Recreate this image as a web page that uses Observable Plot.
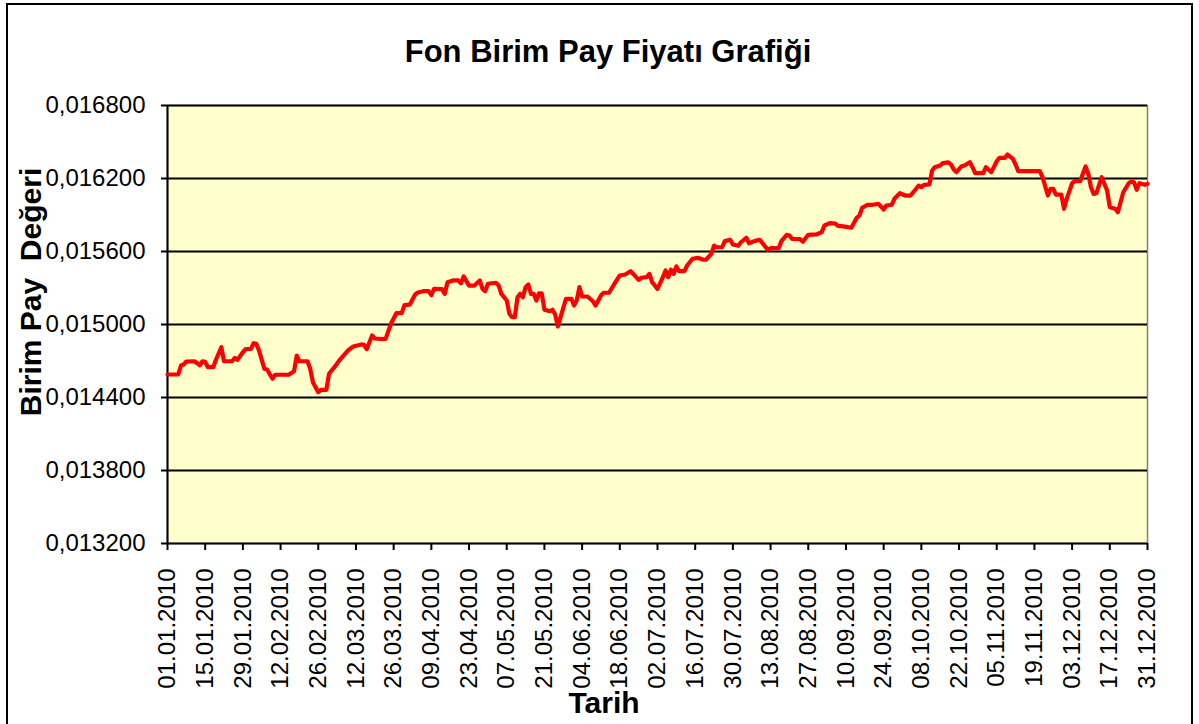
<!DOCTYPE html>
<html>
<head>
<meta charset="utf-8">
<script src="https://cdn.jsdelivr.net/npm/d3@7"></script>
<script src="https://cdn.jsdelivr.net/npm/@observablehq/plot@0.6"></script>
<style>
  html, body { margin: 0; padding: 0; background: #fff; }
  body { width: 1199px; height: 724px; position: relative; overflow: hidden; font-family: "Liberation Sans", Arial, sans-serif; }
  #frame { position: absolute; left: 6px; top: 3px; width: 1187px; height: 730px; border: 2px solid #000; box-sizing: border-box; }
  #title { position: absolute; left: 608px; top: 33px; transform: translateX(-50%); font-size: 31px; font-weight: bold; line-height: 38px; white-space: nowrap; color: #000; }
  #chart { position: absolute; left: 0; top: 80px; }
  #xtitle { position: absolute; left: 604px; top: 686px; transform: translateX(-50%); font-size: 30px; font-weight: bold; line-height: 34px; white-space: nowrap; }
  #ytitle { position: absolute; left: 31px; top: 292px; transform: translate(-50%, -50%) rotate(-90deg); font-size: 30px; font-weight: bold; line-height: 34px; white-space: pre; }
</style>
</head>
<body>
<div id="frame"></div>
<div id="title">Fon Birim Pay Fiyatı Grafiği</div>
<div id="chart"></div>
<div id="xtitle">Tarih</div>
<div id="ytitle">Birim Pay  Değeri</div>
<script>
const dates = [
"01.01.2010","05.01.2010","06.01.2010","07.01.2010","08.01.2010","11.01.2010","12.01.2010","13.01.2010","14.01.2010","15.01.2010",
"16.01.2010","18.01.2010","19.01.2010","21.01.2010","22.01.2010","25.01.2010","26.01.2010","27.01.2010","29.01.2010","30.01.2010",
"01.02.2010","02.02.2010","03.02.2010","04.02.2010","06.02.2010","07.02.2010","09.02.2010","10.02.2010","15.02.2010","17.02.2010",
"18.02.2010","19.02.2010","22.02.2010","23.02.2010","24.02.2010","26.02.2010","27.02.2010","01.03.2010","02.03.2010","04.03.2010",
"06.03.2010","09.03.2010","11.03.2010","14.03.2010","15.03.2010","16.03.2010","18.03.2010","19.03.2010","22.03.2010","23.03.2010",
"25.03.2010","27.03.2010","29.03.2010","30.03.2010","01.04.2010","03.04.2010","04.04.2010","06.04.2010","08.04.2010","09.04.2010",
"10.04.2010","13.04.2010","14.04.2010","15.04.2010","17.04.2010","19.04.2010","20.04.2010","21.04.2010","23.04.2010","25.04.2010",
"27.04.2010","28.04.2010","29.04.2010","30.04.2010","03.05.2010","04.05.2010","05.05.2010","07.05.2010","08.05.2010","09.05.2010",
"10.05.2010","11.05.2010","12.05.2010","13.05.2010","14.05.2010","15.05.2010","16.05.2010","17.05.2010","18.05.2010","19.05.2010",
"20.05.2010","21.05.2010","23.05.2010","24.05.2010","25.05.2010","26.05.2010","27.05.2010","29.05.2010","31.05.2010","01.06.2010",
"02.06.2010","03.06.2010","04.06.2010","06.06.2010","08.06.2010","09.06.2010","11.06.2010","12.06.2010","14.06.2010","16.06.2010",
"18.06.2010","20.06.2010","22.06.2010","23.06.2010","25.06.2010","26.06.2010","28.06.2010","29.06.2010","30.06.2010","02.07.2010",
"04.07.2010","05.07.2010","06.07.2010","07.07.2010","08.07.2010","09.07.2010","10.07.2010","12.07.2010","13.07.2010","15.07.2010",
"17.07.2010","19.07.2010","20.07.2010","22.07.2010","23.07.2010","24.07.2010","26.07.2010","27.07.2010","29.07.2010","30.07.2010",
"01.08.2010","02.08.2010","04.08.2010","05.08.2010","07.08.2010","09.08.2010","10.08.2010","12.08.2010","13.08.2010","16.08.2010",
"17.08.2010","19.08.2010","20.08.2010","21.08.2010","24.08.2010","25.08.2010","27.08.2010","30.08.2010","01.09.2010","02.09.2010",
"04.09.2010","06.09.2010","07.09.2010","09.09.2010","12.09.2010","14.09.2010","15.09.2010","16.09.2010","18.09.2010","20.09.2010",
"22.09.2010","23.09.2010","24.09.2010","25.09.2010","27.09.2010","28.09.2010","30.09.2010","02.10.2010","04.10.2010","05.10.2010",
"07.10.2010","08.10.2010","09.10.2010","11.10.2010","12.10.2010","13.10.2010","15.10.2010","16.10.2010","18.10.2010","19.10.2010",
"20.10.2010","21.10.2010","23.10.2010","24.10.2010","26.10.2010","27.10.2010","28.10.2010","31.10.2010","01.11.2010","02.11.2010",
"03.11.2010","05.11.2010","06.11.2010","08.11.2010","09.11.2010","11.11.2010","12.11.2010","13.11.2010","21.11.2010","22.11.2010",
"24.11.2010","25.11.2010","26.11.2010","27.11.2010","29.11.2010","30.11.2010","01.12.2010","03.12.2010","04.12.2010","06.12.2010",
"07.12.2010","08.12.2010","09.12.2010","10.12.2010","11.12.2010","12.12.2010","14.12.2010","16.12.2010","17.12.2010","19.12.2010",
"20.12.2010","22.12.2010","24.12.2010","25.12.2010","26.12.2010","27.12.2010","28.12.2010","30.12.2010","31.12.2010"
];
const values = [
0.014589,0.014589,0.014663,0.014671,0.014696,0.014698,0.014682,0.014665,0.014698,0.014693,
0.014649,0.014649,0.014710,0.014813,0.014698,0.014698,0.014726,0.014710,0.014772,0.014797,
0.014800,0.014846,0.014841,0.014786,0.014636,0.014630,0.014554,0.014587,0.014587,0.014616,
0.014745,0.014698,0.014698,0.014636,0.014526,0.014444,0.014463,0.014463,0.014595,0.014649,
0.014710,0.014786,0.014819,0.014836,0.014833,0.014797,0.014910,0.014885,0.014880,0.014882,
0.015006,0.015093,0.015093,0.015159,0.015164,0.015247,0.015263,0.015274,0.015274,0.015241,
0.015293,0.015290,0.015252,0.015348,0.015362,0.015362,0.015339,0.015395,0.015320,0.015320,
0.015362,0.015293,0.015274,0.015335,0.015343,0.015320,0.015252,0.015197,0.015088,0.015060,
0.015060,0.015224,0.015252,0.015224,0.015307,0.015329,0.015252,0.015252,0.015197,0.015257,
0.015257,0.015121,0.015109,0.015121,0.015082,0.014984,0.015060,0.015211,0.015211,0.015156,
0.015197,0.015307,0.015230,0.015230,0.015191,0.015156,0.015238,0.015261,0.015261,0.015335,
0.015403,0.015411,0.015438,0.015416,0.015367,0.015384,0.015389,0.015416,0.015348,0.015293,
0.015389,0.015444,0.015389,0.015450,0.015416,0.015477,0.015438,0.015438,0.015485,0.015540,
0.015548,0.015532,0.015532,0.015581,0.015649,0.015635,0.015635,0.015685,0.015696,0.015658,
0.015647,0.015676,0.015713,0.015668,0.015685,0.015696,0.015668,0.015614,0.015627,0.015627,
0.015685,0.015737,0.015732,0.015704,0.015701,0.015680,0.015737,0.015740,0.015759,0.015814,
0.015833,0.015830,0.015811,0.015806,0.015795,0.015877,0.015896,0.015959,0.015984,0.015984,
0.015992,0.015970,0.015945,0.015978,0.015984,0.016033,0.016079,0.016060,0.016060,0.016087,
0.016142,0.016129,0.016148,0.016151,0.016266,0.016293,0.016307,0.016326,0.016332,0.016315,
0.016276,0.016252,0.016301,0.016307,0.016334,0.016293,0.016244,0.016244,0.016293,0.016272,
0.016252,0.016342,0.016370,0.016370,0.016397,0.016362,0.016315,0.016260,0.016260,0.016211,
0.016060,0.016115,0.016115,0.016068,0.016068,0.015951,0.016033,0.016161,0.016178,0.016178,
0.016239,0.016299,0.016239,0.016128,0.016074,0.016079,0.016211,0.016101,0.015964,0.015951,
0.015923,0.016087,0.016161,0.016175,0.016169,0.016107,0.016161,0.016148,0.016156
];
const xTickLabels = [
"01.01.2010","15.01.2010","29.01.2010","12.02.2010","26.02.2010","12.03.2010","26.03.2010","09.04.2010","23.04.2010",
"07.05.2010","21.05.2010","04.06.2010","18.06.2010","02.07.2010","16.07.2010","30.07.2010","13.08.2010","27.08.2010",
"10.09.2010","24.09.2010","08.10.2010","22.10.2010","05.11.2010","19.11.2010","03.12.2010","17.12.2010","31.12.2010"
];
const yTicks = [0.0132, 0.0138, 0.0144, 0.0150, 0.0156, 0.0162, 0.0168];

const parse = d3.utcParse("%d.%m.%Y");
const fmt = d3.utcFormat("%d.%m.%Y");
const data = dates.map((d, i) => ({date: parse(d), value: values[i]}));
const xTicks = xTickLabels.map(parse);
const xDomain = [xTicks[0], xTicks[xTicks.length - 1]];
const yDomain = [yTicks[0], yTicks[yTicks.length - 1]];

const plot = Plot.plot({
  width: 1199,
  height: 644,
  marginLeft: 167,
  marginRight: 52,
  marginTop: 25,
  marginBottom: 181,
  style: {fontFamily: "'Liberation Sans', Arial, sans-serif", fontSize: "24px", color: "#000", background: "transparent", overflow: "visible"},
  x: {type: "utc", domain: xDomain},
  y: {domain: yDomain},
  marks: [
    Plot.frame({fill: "#FFFFCC", stroke: "#808080", strokeWidth: 1.5}),
    Plot.gridY(yTicks.slice(1), {stroke: "#000", strokeOpacity: 1, strokeWidth: 2}),
    Plot.ruleX([xDomain[0]], {stroke: "#000", strokeWidth: 2}),
    Plot.ruleY([yDomain[0]], {stroke: "#000", strokeWidth: 2}),
    Plot.axisY({ticks: yTicks, tickFormat: d => d.toFixed(6).replace(".", ","), tickSize: 6, tickPadding: 16, label: null, stroke: "#000", strokeWidth: 2, fill: "#000"}),
    Plot.axisX({ticks: xTicks, tickFormat: fmt, tickRotate: -90, tickSize: 7, tickPadding: 18, label: null, stroke: "#000", strokeWidth: 2, fill: "#000"}),
    Plot.lineY(data, {x: "date", y: "value", stroke: "#FF0000", strokeWidth: 4.2, strokeLinejoin: "round", strokeLinecap: "round"})
  ]
});
document.getElementById("chart").appendChild(plot);
</script>
</body>
</html>
